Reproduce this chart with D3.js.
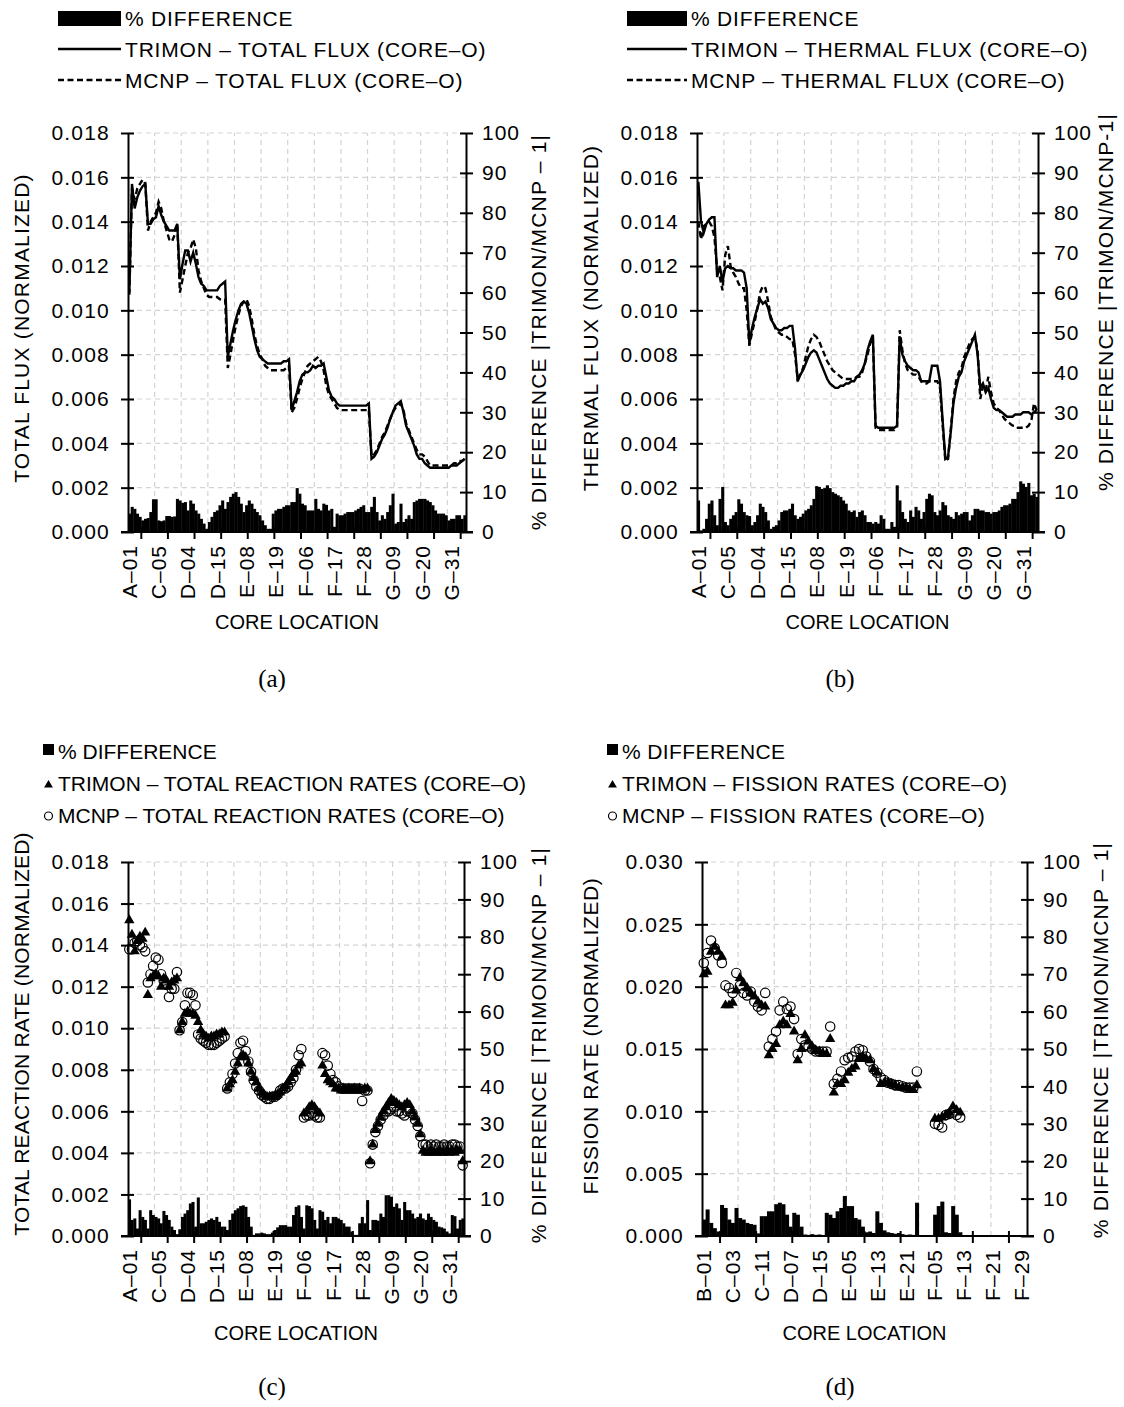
<!DOCTYPE html>
<html><head><meta charset="utf-8">
<script src="https://cdn.jsdelivr.net/npm/d3@7"></script>
<style>
body{margin:0;background:#fff}
text{font-family:"Liberation Sans",Arial,sans-serif;fill:#000}
</style>
</head><body>
<svg id="chart" width="1124" height="1407"></svg>
<script>
// ---------------- DATA ----------------
const rings = [["A",1],["B",6],["C",12],["D",18],["E",24],["F",30],["G",36]];
function ringLabels(list){const out=[];list.forEach(([r,n])=>{for(let k=1;k<=n;k++)out.push(r+"–"+String(k).padStart(2,"0"));});return out;}
const categoriesAG = ringLabels(rings);            // A-01 ... G-36 (127)
const categoriesBF = ringLabels(rings.slice(1,6)); // B-01 ... F-30 (90)

const rightTicks = [0,10,20,30,40,50,60,70,80,90,100];

// (a) total flux
const trimonTotalFlux = [0.0108,0.0157,0.0146,0.0151,0.0154,0.0156,0.0157,
 0.0139,0.0139,0.0141,0.0142,0.0147,0.0143,0.0140,0.0138,0.0136,0.0136,0.0136,0.0139,
 0.0114,0.0121,0.0127,0.0127,0.0122,0.0126,0.0121,0.0115,0.0112,0.0111,0.0109,0.0109,0.0109,0.0109,0.0109,0.0111,0.0112,0.0113,
 0.0079,0.0085,0.0091,0.0096,0.0100,0.0103,0.0104,0.0103,0.0099,0.0093,0.0087,0.0082,0.0079,0.0078,0.0077,0.0076,0.0076,0.0076,0.0076,0.0076,0.0076,0.0077,0.0077,0.0078,
 0.0055,0.0059,0.0063,0.0068,0.0071,0.0072,0.0072,0.0073,0.0075,0.0074,0.0075,0.0075,0.0076,0.0070,0.0064,0.0061,0.0060,0.0058,0.0057,0.0057,0.0057,0.0057,0.0057,0.0057,0.0057,0.0057,0.0057,0.0057,0.0057,0.0058,
 0.0033,0.0034,0.0036,0.0039,0.0042,0.0044,0.0047,0.0051,0.0054,0.0057,0.0058,0.0059,0.0054,0.0048,0.0045,0.0042,0.0039,0.0035,0.0033,0.0033,0.0031,0.0030,0.0029,0.0029,0.0029,0.0029,0.0029,0.0029,0.0029,0.0029,0.0030,0.0030,0.0030,0.0031,0.0032,0.0033];
const mcnpTotalFlux = [0.0107,0.0155,0.0150,0.0155,0.0157,0.0159,0.0157,
 0.0136,0.0140,0.0142,0.0144,0.0149,0.0146,0.0140,0.0136,0.0132,0.0131,0.0134,0.0139,
 0.0108,0.0114,0.0120,0.0126,0.0128,0.0132,0.0128,0.0118,0.0113,0.0110,0.0107,0.0106,0.0106,0.0106,0.0106,0.0105,0.0105,0.0105,
 0.0074,0.0080,0.0087,0.0093,0.0098,0.0102,0.0104,0.0105,0.0102,0.0096,0.0089,0.0084,0.0080,0.0078,0.0075,0.0074,0.0073,0.0073,0.0073,0.0073,0.0073,0.0073,0.0074,0.0075,
 0.0054,0.0056,0.0060,0.0065,0.0069,0.0072,0.0075,0.0076,0.0077,0.0078,0.0079,0.0077,0.0073,0.0066,0.0062,0.0060,0.0058,0.0056,0.0055,0.0055,0.0055,0.0055,0.0055,0.0055,0.0055,0.0055,0.0055,0.0055,0.0055,0.0055,
 0.0034,0.0035,0.0037,0.0040,0.0043,0.0045,0.0048,0.0051,0.0054,0.0056,0.0057,0.0058,0.0055,0.0049,0.0046,0.0043,0.0040,0.0037,0.0035,0.0035,0.0034,0.0032,0.0030,0.0030,0.0030,0.0030,0.0030,0.0030,0.0030,0.0030,0.0030,0.0031,0.0031,0.0032,0.0032,0.0033];
const diffTotalFlux = [4.6,6.3,5.8,4.6,3.8,2.9,3.3,3.5,5.0,8.2,
 8.2,2.9,2.7,2.9,4.0,4.0,3.8,3.9,8.3,7.9,
 7.3,7.5,5.4,7.9,7.1,5.4,4.6,3.3,2.1,0.8,
 2.5,3.8,5.0,5.4,6.7,7.9,5.8,7.5,8.8,9.6,
 10.0,8.8,7.1,5.0,6.7,7.9,7.1,5.8,5.0,4.2,
 2.9,1.7,0.8,0.8,4.6,5.4,5.8,5.8,6.3,6.7,
 6.7,7.5,7.5,11.0,9.6,7.1,6.7,5.4,5.4,5.4,
 8.3,5.8,5.4,7.1,6.8,5.4,5.8,1.3,4.6,4.2,
 4.2,4.6,5.0,5.0,5.0,5.4,5.8,6.3,6.7,5.0,
 5.0,6.3,8.8,5.0,2.9,4.2,3.3,5.0,6.7,9.6,
 2.1,2.5,7.1,2.5,3.3,4.2,3.3,7.5,7.9,8.3,
 8.3,8.3,7.9,7.5,6.7,5.4,4.6,4.6,4.6,4.2,
 2.9,3.3,3.3,4.2,4.2,3.3,4.2];

// (b) thermal flux
const trimonThermalFlux = [0.0158,0.0140,0.0135,0.0139,0.0141,0.0142,0.0142,
 0.0115,0.0120,0.0113,0.0119,0.0120,0.0119,0.0119,0.0118,0.0118,0.0118,0.0117,0.0110,
 0.0085,0.0092,0.0097,0.0101,0.0105,0.0103,0.0104,0.0101,0.0096,0.0094,0.0092,0.0091,0.0091,0.0092,0.0092,0.0093,0.0093,0.0083,
 0.0068,0.0071,0.0073,0.0076,0.0079,0.0081,0.0082,0.0081,0.0078,0.0075,0.0072,0.0069,0.0067,0.0066,0.0065,0.0065,0.0066,0.0066,0.0067,0.0067,0.0068,0.0068,0.0070,0.0071,
 0.0073,0.0076,0.0082,0.0086,0.0089,0.0048,0.0047,0.0047,0.0047,0.0047,0.0047,0.0047,0.0047,0.0048,0.0088,0.0080,0.0077,0.0075,0.0074,0.0073,0.0073,0.0072,0.0068,0.0068,0.0068,0.0068,0.0075,0.0075,0.0075,0.0068,
 0.0050,0.0033,0.0034,0.0045,0.0058,0.0065,0.0070,0.0072,0.0077,0.0080,0.0083,0.0086,0.0089,0.0080,0.0065,0.0067,0.0063,0.0065,0.0060,0.0056,0.0055,0.0055,0.0054,0.0053,0.0052,0.0052,0.0052,0.0053,0.0053,0.0053,0.0054,0.0054,0.0054,0.0053,0.0054,0.0055];
const mcnpThermalFlux = [0.0140,0.0132,0.0138,0.0139,0.0140,0.0138,0.0133,
 0.0118,0.0115,0.0109,0.0125,0.0129,0.0120,0.0117,0.0115,0.0112,0.0110,0.0110,0.0100,
 0.0084,0.0090,0.0095,0.0101,0.0108,0.0111,0.0110,0.0104,0.0097,0.0094,0.0091,0.0090,0.0089,0.0089,0.0088,0.0087,0.0087,0.0080,
 0.0069,0.0071,0.0074,0.0079,0.0084,0.0087,0.0089,0.0088,0.0086,0.0083,0.0080,0.0077,0.0075,0.0073,0.0072,0.0071,0.0070,0.0069,0.0069,0.0069,0.0069,0.0069,0.0070,0.0070,
 0.0072,0.0076,0.0080,0.0085,0.0088,0.0047,0.0046,0.0046,0.0046,0.0046,0.0046,0.0046,0.0046,0.0047,0.0091,0.0082,0.0076,0.0073,0.0072,0.0071,0.0071,0.0070,0.0068,0.0067,0.0067,0.0068,0.0068,0.0068,0.0068,0.0065,
 0.0048,0.0032,0.0033,0.0046,0.0060,0.0068,0.0072,0.0074,0.0079,0.0082,0.0085,0.0087,0.0088,0.0082,0.0060,0.0066,0.0064,0.0070,0.0063,0.0058,0.0056,0.0055,0.0053,0.0051,0.0050,0.0049,0.0048,0.0048,0.0047,0.0047,0.0047,0.0047,0.0048,0.0050,0.0058,0.0055];
const diffThermalFlux = [7.9,0.4,0.8,3.3,7.1,7.9,4.2,1.7,8.3,11.3,
 2.5,1.7,3.3,4.2,5.0,8.2,7.1,5.0,4.2,4.0,
 1.7,2.5,4.2,7.1,6.3,5.0,2.9,0.8,1.3,1.7,
 2.9,5.0,5.4,5.4,5.8,7.1,4.2,3.3,3.8,4.6,
 5.4,5.8,6.7,8.3,11.5,11.3,10.8,11.0,11.7,11.0,
 10.0,9.6,9.2,8.8,7.9,7.1,5.4,5.0,5.4,3.8,
 5.0,5.4,4.2,2.5,2.5,2.1,2.5,2.1,4.2,3.3,
 0.8,0.8,2.5,1.3,11.7,7.9,5.0,3.3,2.5,5.4,
 3.8,6.3,5.4,3.3,5.0,8.3,9.6,9.2,5.0,4.2,
 5.4,7.5,6.7,4.2,3.8,3.3,5.0,4.2,4.6,5.0,
 5.0,2.9,4.2,5.8,5.8,5.4,5.4,5.0,5.0,4.6,
 5.0,5.0,5.4,6.3,6.7,6.7,7.1,8.3,8.3,10.0,
 12.7,12.1,11.3,12.3,9.2,9.6,8.8];

// (c) total reaction rates
const trimonReaction = [0.0152,0.0145,0.0137,0.0142,0.0144,0.0143,0.0146,
 0.0116,0.0124,0.0125,0.0126,0.0125,0.0120,0.0124,0.0123,0.0120,0.0122,0.0123,0.0124,
 0.0099,0.0103,0.0107,0.0108,0.0107,0.0107,0.0106,0.0103,0.0099,0.0097,0.0096,0.0095,0.0096,0.0096,0.0097,0.0097,0.0098,0.0098,
 0.0071,0.0073,0.0075,0.0079,0.0083,0.0086,0.0087,0.0086,0.0083,0.0079,0.0076,0.0074,0.0071,0.0069,0.0068,0.0067,0.0067,0.0067,0.0067,0.0068,0.0069,0.0071,0.0072,0.0074,
 0.0076,0.0078,0.0079,0.0082,0.0083,0.0059,0.0060,0.0062,0.0063,0.0062,0.0060,0.0059,0.0082,0.0078,0.0075,0.0074,0.0073,0.0071,0.0071,0.0070,0.0071,0.0070,0.0071,0.0070,0.0071,0.0070,0.0071,0.0070,0.0071,0.0071,
 0.0036,0.0044,0.0051,0.0054,0.0057,0.0060,0.0062,0.0064,0.0066,0.0065,0.0064,0.0063,0.0062,0.0063,0.0064,0.0063,0.0060,0.0057,0.0054,0.0049,0.0041,0.0040,0.0040,0.0041,0.0040,0.0040,0.0041,0.0040,0.0040,0.0041,0.0040,0.0041,0.0040,0.0041,0.0041,0.0036];
const mcnpReaction = [0.0138,0.0138,0.0141,0.0142,0.0140,0.0139,0.0137,
 0.0122,0.0126,0.0130,0.0134,0.0133,0.0126,0.0123,0.0121,0.0115,0.0119,0.0119,0.0127,
 0.0099,0.0103,0.0111,0.0117,0.0117,0.0116,0.0111,0.0097,0.0095,0.0094,0.0093,0.0092,0.0092,0.0092,0.0093,0.0094,0.0095,0.0096,
 0.0071,0.0074,0.0078,0.0083,0.0088,0.0093,0.0094,0.0089,0.0084,0.0079,0.0075,0.0072,0.0070,0.0068,0.0067,0.0066,0.0066,0.0067,0.0067,0.0068,0.0070,0.0071,0.0071,0.0072,
 0.0074,0.0076,0.0080,0.0087,0.0090,0.0057,0.0058,0.0058,0.0059,0.0058,0.0057,0.0057,0.0088,0.0087,0.0082,0.0078,0.0075,0.0074,0.0072,0.0071,0.0071,0.0071,0.0071,0.0071,0.0071,0.0071,0.0071,0.0065,0.0070,0.0070,
 0.0035,0.0044,0.0050,0.0053,0.0056,0.0058,0.0060,0.0060,0.0061,0.0062,0.0060,0.0060,0.0059,0.0058,0.0060,0.0060,0.0059,0.0056,0.0053,0.0048,0.0044,0.0044,0.0043,0.0044,0.0043,0.0044,0.0043,0.0043,0.0044,0.0043,0.0043,0.0044,0.0044,0.0043,0.0043,0.0034];
const diffReaction = [9.8,4.3,4.7,2.0,6.9,5.1,4.3,2.0,6.9,5.6,
 5.1,4.7,3.4,6.7,5.6,4.3,2.5,1.6,0.5,1.8,
 5.1,6.0,6.9,8.7,9.1,2.5,10.3,3.4,3.4,3.8,
 4.3,4.7,4.3,5.1,3.8,2.5,2.5,1.6,4.3,6.0,
 6.9,7.4,8.0,8.2,7.8,5.1,2.5,0.3,0.7,0.7,
 0.9,0.7,0.5,0.5,0.9,1.6,2.3,2.9,2.9,2.9,
 2.5,2.5,5.6,7.8,8.2,5.1,2.0,8.2,8.0,7.4,
 4.3,2.0,6.9,6.5,4.3,5.1,3.4,5.1,5.1,4.7,
 4.3,3.4,2.5,2.5,1.2,0.3,0.3,3.4,5.1,3.4,
 9.6,1.6,4.3,4.3,4.1,6.0,5.1,10.9,10.9,10.5,
 7.8,8.7,7.4,4.3,9.1,6.9,6.9,6.0,4.7,5.1,
 6.0,4.7,4.3,6.0,5.1,4.3,3.8,2.5,2.3,2.0,
 1.2,0.7,5.6,5.3,2.0,4.3,4.7];

// (d) fission rates (null = no value)
const N = null;
const trimonFission = [0.0210,0.0212,0.0228,0.0232,0.0228,0.0224,
 0.0185,0.0185,0.0187,0.0197,0.0207,0.0203,0.0199,0.0195,0.0192,0.0188,0.0185,0.0184,
 0.0145,0.0150,0.0154,0.0169,0.0172,0.0169,0.0178,0.0164,0.0141,0.0150,0.0161,0.0156,0.0152,0.0149,0.0148,0.0146,0.0146,0.0158,
 0.0115,0.0122,0.0122,0.0125,0.0131,0.0134,0.0136,0.0142,0.0144,0.0142,0.0141,0.0134,0.0131,0.0122,0.0123,0.0123,0.0122,0.0121,0.0119,0.0119,0.0119,0.0118,0.0117,0.0121,
 N,N,N,N,0.0094,0.0094,0.0095,0.0097,0.0099,0.0104,0.0101,0.0099,N,N,N,N,N,N,N,N,N,N,N,N,N,N,N,N,N,N];
const mcnpFission = [0.0219,0.0227,0.0237,0.0231,0.0225,0.0219,
 0.0201,0.0199,0.0195,0.0211,0.0201,0.0195,0.0193,0.0196,0.0188,0.0184,0.0181,0.0195,
 0.0152,0.0158,0.0164,0.0181,0.0188,0.0182,0.0184,0.0174,0.0146,0.0158,0.0153,0.0152,0.0150,0.0148,0.0148,0.0148,0.0148,0.0168,
 0.0122,0.0126,0.0132,0.0141,0.0143,0.0144,0.0148,0.0150,0.0149,0.0144,0.0140,0.0134,0.0131,0.0127,0.0125,0.0123,0.0122,0.0121,0.0121,0.0120,0.0119,0.0119,0.0119,0.0132,
 N,N,N,N,0.0090,0.0089,0.0087,0.0097,0.0098,0.0099,0.0097,0.0095,N,N,N,N,N,N,N,N,N,N,N,N,N,N,N,N,N,N];
const diffFission = [4.4,7.1,3.5,2.1,1.2,8.3,
 7.5,4.4,3.5,7.5,4.8,4.4,3.5,3.2,3.0,0.7,5.3,5.3,
 6.6,6.6,8.5,8.9,8.5,5.7,2.5,6.2,5.7,2.5,0.4,0.3,0.5,0.3,0.4,0.2,6.2,5.7,
 4.8,6.6,7.5,10.7,8.0,8.0,4.8,4.4,2.5,1.0,1.2,0.8,6.6,3.5,1.5,1.0,0.8,0.6,0.8,0.5,0.3,0.4,0.3,8.9,
 N,N,N,N,5.7,8.0,9.2,1.0,0.8,8.0,5.7,1.0,N,N,N,N,N,N,N,N,N,N,N,N,N,N,N,N,N,N];

// ---------------- DRAWING ----------------
const svg = d3.select("#chart");
const GRID = "#d3d3d3";
const FONT = '"Liberation Sans",Arial,sans-serif';

function panel(p){
  const g = svg.append("g");
  const n = p.cats.length;
  const x = d3.scaleBand().domain(p.cats).range([p.x0, p.x1]).padding(0);
  const bw = x.bandwidth();
  const edge = i => (i < n ? x(p.cats[i]) : p.x1);
  const cx = i => x(p.cats[i]) + bw/2;
  const y = d3.scaleLinear().domain([0, p.yMax]).range([p.yB, p.yT]);
  const y2 = d3.scaleLinear().domain([0, 100]).range([p.yB, p.yT]);
  const leftTicks = d3.range(0, Math.round(p.yMax/p.yStep)+1).map(k => +(k*p.yStep).toFixed(4));

  // gridlines
  g.append("g").selectAll("line").data(leftTicks.slice(1)).join("line")
    .attr("x1", p.x0).attr("x2", p.x1).attr("y1", d=>y(d)).attr("y2", d=>y(d))
    .attr("stroke", GRID).attr("stroke-width",1.2).attr("stroke-dasharray","5,4");
  g.append("g").selectAll("line").data(d3.range(10, n, 10)).join("line")
    .attr("x1", i=>edge(i)).attr("x2", i=>edge(i)).attr("y1", p.yB).attr("y2", p.yT)
    .attr("stroke", GRID).attr("stroke-width",1.2).attr("stroke-dasharray","5,4");

  // bars (% difference, right axis)
  const barData = p.diff.map((v,i)=>({c:p.cats[i], v})).filter(d=>d.v!=null && d.v>0);
  g.append("g").selectAll("rect").data(barData).join("rect")
    .attr("x", d=>x(d.c)).attr("width", bw+0.4)
    .attr("y", d=>y2(d.v)).attr("height", d=>p.yB - y2(d.v)).attr("fill","#000");

  // series
  if (p.type === "line"){
    const line = d3.line().defined(d=>d!=null).x((d,i)=>cx(i)).y(d=>y(d));
    g.append("path").datum(p.s2).attr("d", line).attr("fill","none")
      .attr("stroke","#000").attr("stroke-width",2.4).attr("stroke-dasharray","6,3.5");
    g.append("path").datum(p.s1).attr("d", line).attr("fill","none")
      .attr("stroke","#000").attr("stroke-width",2.4);
  } else {
    const tri = d3.symbol().type(d3.symbolTriangle).size(46);
    const d1 = p.s1.map((v,i)=>({i,v})).filter(d=>d.v!=null);
    const d2 = p.s2.map((v,i)=>({i,v})).filter(d=>d.v!=null);
    g.append("g").selectAll("path").data(d1).join("path")
      .attr("d", tri).attr("transform", d=>`translate(${cx(d.i)},${y(d.v)})`).attr("fill","#000");
    g.append("g").selectAll("circle").data(d2).join("circle")
      .attr("cx", d=>cx(d.i)).attr("cy", d=>y(d.v)).attr("r",4.7)
      .attr("fill","none").attr("stroke","#000").attr("stroke-width",1.2);
  }

  // left axis
  const la = g.append("g").attr("transform",`translate(${p.x0},0)`)
    .call(d3.axisLeft(y).tickValues(leftTicks).tickFormat(d3.format(".3f")).tickSize(7).tickSizeOuter(0).tickPadding(11));
  la.selectAll(".tick line").attr("x1",6).attr("stroke-width",2);
  la.select(".domain").attr("stroke-width",2);
  la.selectAll("text").attr("font-size",21).attr("font-family",FONT).attr("letter-spacing","1.2px");

  // right axis
  const ra = g.append("g").attr("transform",`translate(${p.x1},0)`)
    .call(d3.axisRight(y2).tickValues(rightTicks).tickSize(7).tickSizeOuter(0).tickPadding(9));
  ra.selectAll(".tick line").attr("x1",-6).attr("stroke-width",2);
  ra.select(".domain").attr("stroke-width",2);
  ra.selectAll("text").attr("font-size",21).attr("font-family",FONT).attr("letter-spacing","1px");

  // bottom axis
  g.append("line").attr("x1",p.x0-7).attr("x2",p.x1+7).attr("y1",p.yB).attr("y2",p.yB)
    .attr("stroke","#000").attr("stroke-width",2);
  g.append("g").selectAll("line").data(d3.range(5, n, 10)).join("line")
    .attr("x1", i=>edge(i)).attr("x2", i=>edge(i)).attr("y1", p.yB-5).attr("y2", p.yB+7)
    .attr("stroke","#000").attr("stroke-width",2);
  const ba = g.append("g").attr("transform",`translate(0,${p.yB})`)
    .call(d3.axisBottom(x).tickValues(p.cats.filter((c,i)=>i % p.every === 0)).tickSize(0).tickPadding(0));
  ba.select(".domain").remove();
  ba.selectAll("text").attr("transform","rotate(-90)").attr("x",-13).attr("y",0).attr("dy","0.36em")
    .attr("text-anchor","end").attr("font-size",21).attr("letter-spacing","1px").attr("font-family",FONT);

  // titles
  g.append("text").attr("x",(p.x0+p.x1)/2).attr("y",p.yB+p.coreDy).attr("text-anchor","middle")
    .attr("font-size",20).text("CORE LOCATION");
  g.append("text").attr("transform",`translate(${p.ltx},${p.lty}) rotate(-90)`).attr("text-anchor","middle")
    .attr("dy","0.36em").attr("font-size",21).attr("letter-spacing",p.lts+"px").text(p.leftTitle);
  g.append("text").attr("transform",`translate(${p.rtx},${p.rty}) rotate(-90)`).attr("text-anchor","middle")
    .attr("dy","0.36em").attr("font-size",21).attr("letter-spacing","1.2px").text(p.rightTitle);
  g.append("text").attr("x",p.capX).attr("y",p.capY).attr("text-anchor","middle")
    .style("font-family",'"Liberation Serif","Times New Roman",serif').attr("font-size",25).text(p.caption);

  // legend
  const L = svg.append("g");
  const lt = p.legend;
  if (p.type === "line"){
    L.append("rect").attr("x",lt.x).attr("y",11).attr("width",lt.w).attr("height",15).attr("fill","#000");
    L.append("line").attr("x1",lt.x).attr("x2",lt.x+lt.w).attr("y1",49).attr("y2",49).attr("stroke","#000").attr("stroke-width",2.4);
    L.append("line").attr("x1",lt.x).attr("x2",lt.x+lt.w).attr("y1",80).attr("y2",80).attr("stroke","#000").attr("stroke-width",2.4).attr("stroke-dasharray","6,3.5");
    [[26,lt.t[0]],[57,lt.t[1]],[88,lt.t[2]]].forEach(([yy,t])=>
      L.append("text").attr("x",lt.x+lt.w+4).attr("y",yy).attr("font-size",21).attr("letter-spacing",lt.ls+"px").text(t));
  } else {
    L.append("rect").attr("x",lt.x).attr("y",744).attr("width",11).attr("height",11).attr("fill","#000");
    L.append("path").attr("d",d3.symbol().type(d3.symbolTriangle).size(34)).attr("transform",`translate(${lt.x+5.5},${785})`).attr("fill","#000");
    L.append("circle").attr("cx",lt.x+5.5).attr("cy",816).attr("r",4).attr("fill","none").attr("stroke","#000").attr("stroke-width",1.2);
    [[759,lt.t[0]],[791,lt.t[1]],[823,lt.t[2]]].forEach(([yy,t])=>
      L.append("text").attr("x",lt.x+15).attr("y",yy).attr("font-size",21).attr("letter-spacing",lt.ls+"px").text(t));
  }
}

panel({type:"line", cats:categoriesAG, every:11, x0:128, x1:466, yB:532, yT:133, yMax:0.018, yStep:0.002,
  s1:trimonTotalFlux, s2:mcnpTotalFlux, diff:diffTotalFlux, coreDy:97,
  leftTitle:"TOTAL FLUX (NORMALIZED)", ltx:21, lty:328, lts:1.2,
  rightTitle:"% DIFFERENCE  |TRIMON/MCNP – 1|", rtx:538, rty:332,
  caption:"(a)", capX:272, capY:687,
  legend:{x:58, w:63, ls:0.8, t:["% DIFFERENCE","TRIMON – TOTAL FLUX (CORE–O)","MCNP – TOTAL FLUX (CORE–O)"]}});

panel({type:"line", cats:categoriesAG, every:11, x0:697, x1:1038, yB:532, yT:133, yMax:0.018, yStep:0.002,
  s1:trimonThermalFlux, s2:mcnpThermalFlux, diff:diffThermalFlux, coreDy:97,
  leftTitle:"THERMAL FLUX (NORMALIZED)", ltx:590, lty:318, lts:1.2,
  rightTitle:"% DIFFERENCE |TRIMON/MCNP-1|", rtx:1105, rty:302,
  caption:"(b)", capX:840, capY:687,
  legend:{x:627, w:60, ls:0.8, t:["% DIFFERENCE","TRIMON – THERMAL  FLUX (CORE–O)","MCNP – THERMAL FLUX (CORE–O)"]}});

panel({type:"scatter", cats:categoriesAG, every:11, x0:128, x1:464, yB:1236, yT:862, yMax:0.018, yStep:0.002,
  s1:trimonReaction, s2:mcnpReaction, diff:diffReaction, coreDy:104,
  leftTitle:"TOTAL REACTION RATE (NORMALIZED)", ltx:21, lty:1034, lts:0.2,
  rightTitle:"% DIFFERENCE  |TRIMON/MCNP – 1|", rtx:538, rty:1045,
  caption:"(c)", capX:272, capY:1395,
  legend:{x:43, ls:0, t:["% DIFFERENCE","TRIMON – TOTAL REACTION RATES (CORE–O)","MCNP – TOTAL REACTION RATES (CORE–O)"]}});

panel({type:"scatter", cats:categoriesBF, every:8, x0:702, x1:1027, yB:1236, yT:862, yMax:0.030, yStep:0.005,
  s1:trimonFission, s2:mcnpFission, diff:diffFission, coreDy:104,
  leftTitle:"FISSION RATE (NORMALIZED)", ltx:590, lty:1036, lts:0.6,
  rightTitle:"% DIFFERENCE |TRIMON/MCNP – 1|", rtx:1100, rty:1040,
  caption:"(d)", capX:840, capY:1395,
  legend:{x:607, ls:0.4, t:["% DIFFERENCE","TRIMON – FISSION RATES (CORE–O)","MCNP – FISSION RATES (CORE–O)"]}});
</script>
</body></html>
